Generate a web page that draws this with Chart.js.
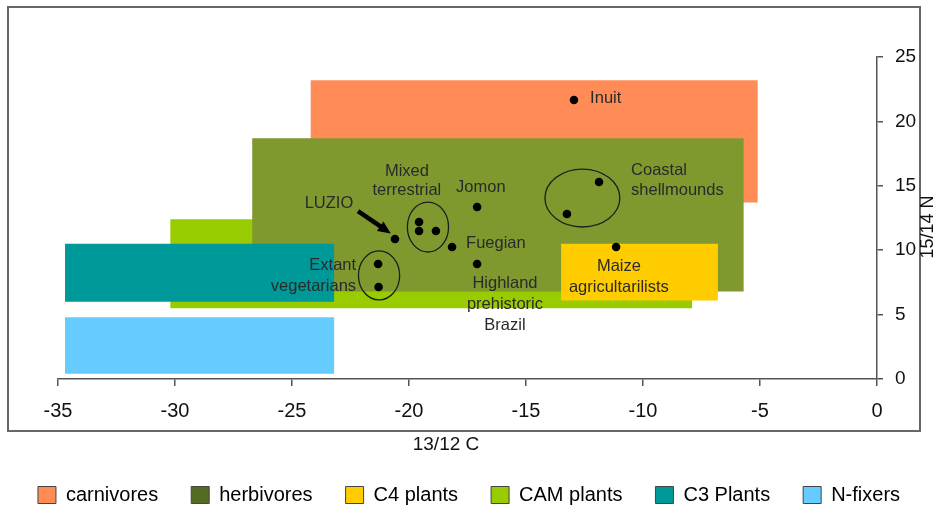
<!DOCTYPE html>
<html>
<head>
<meta charset="utf-8">
<script src="https://cdn.jsdelivr.net/npm/chart.js@4.4.1/dist/chart.umd.min.js"></script>
<style>
    html, body { margin: 0; padding: 0; background: #fff; }
    #wrap { width: 938px; height: 509px; }
</style>
</head>
<body>
<div id="wrap"><canvas id="isoChart"></canvas></div>
<script>
// diet groups, ranges of 13/12 C (x) and 15/14 N (y)
const groupNames = ['carnivores', 'herbivores', 'C4 plants', 'CAM plants', 'C3 Plants', 'N-fixers'];
const groupColors = ['#FF8C57', '#7F992F', '#FFCC00', '#99CC00', '#009999', '#66CCFF'];
const legendColors = ['#FF8C57', '#566B22', '#FFCC00', '#99CC00', '#009999', '#66CCFF'];
const groupXMin = [-24.2, -26.7, -13.5, -30.2, -34.7, -34.7];
const groupXMax = [-5.1, -5.7, -6.8, -7.9, -23.2, -23.2];
const groupYMin = [13.7, 6.8, 6.1, 5.5, 6.0, 0.4];
const groupYMax = [23.2, 18.7, 10.5, 12.4, 10.5, 4.8];
// higher number gets painted first (further back)
const groupLayer = [6, 4, 2, 5, 3, 1];

// measured samples
const sampleC = [-12.95, -11.88, -13.25, -17.09, -11.15, -17.09, -18.16, -20.6, -19.57, -19.57, -18.85, -21.32, -21.3];
const sampleN = [21.66, 15.3, 12.81, 13.35, 10.25, 8.93, 10.25, 10.87, 12.19, 11.49, 11.49, 8.93, 7.14];

const cTicks = [-35, -30, -25, -20, -15, -10, -5, 0];
const nTicks = [0, 5, 10, 15, 20, 25];

// text notes on the plot (data coords)
const notes = [
    { text: 'Inuit', x: -12.26, y: 21.8, align: 'left' },
    { text: 'Coastal', x: -10.51, y: 16.2, align: 'left' },
    { text: 'shellmounds', x: -10.51, y: 14.6, align: 'left' },
    { text: 'Jomon', x: -17.99, y: 14.9, align: 'left' },
    { text: 'Mixed', x: -20.09, y: 16.15, align: 'center' },
    { text: 'terrestrial', x: -20.09, y: 14.67, align: 'center' },
    { text: 'LUZIO', x: -23.42, y: 13.66, align: 'center' },
    { text: 'Fuegian', x: -17.56, y: 10.56, align: 'left' },
    { text: 'Extant', x: -22.26, y: 8.85, align: 'right' },
    { text: 'vegetarians', x: -22.26, y: 7.22, align: 'right' },
    { text: 'Highland', x: -15.9, y: 7.45, align: 'center' },
    { text: 'prehistoric', x: -15.9, y: 5.75, align: 'center' },
    { text: 'Brazil', x: -15.9, y: 4.19, align: 'center' },
    { text: 'Maize', x: -11.03, y: 8.7, align: 'center' },
    { text: 'agricultarilists', x: -11.03, y: 7.14, align: 'center' }
];
// rings around sample clusters
const rings = [
    { cx: -19.19, cy: 11.8, rx: 0.88, ry: 1.94 },
    { cx: -21.28, cy: 8.04, rx: 0.88, ry: 1.9 },
    { cx: -12.59, cy: 14.05, rx: 1.6, ry: 2.25 }
];
const luzioArrow = { x0: -22.18, y0: 13.04, x1: -20.78, y1: 11.3 };

const FONT = '"Liberation Sans", Arial, sans-serif';
const LEGEND_FONT = 20, LEGEND_PAD = 33, PAD_BOTTOM = -6;

const overlay = {
    id: 'overlay',
    afterDatasetsDraw(chart) {
        const { ctx, scales: { x, y } } = chart;
        ctx.save();
        ctx.strokeStyle = '#1e1e1e';
        ctx.lineWidth = 1.3;
        rings.forEach(r => {
            const px = x.getPixelForValue(r.cx), py = y.getPixelForValue(r.cy);
            const rx = Math.abs(x.getPixelForValue(r.cx + r.rx) - px);
            const ry = Math.abs(y.getPixelForValue(r.cy + r.ry) - py);
            ctx.beginPath();
            ctx.ellipse(px, py, rx, ry, 0, 0, Math.PI * 2);
            ctx.stroke();
        });

        // arrow to LUZIO
        const ax0 = x.getPixelForValue(luzioArrow.x0), ay0 = y.getPixelForValue(luzioArrow.y0);
        const ax1 = x.getPixelForValue(luzioArrow.x1), ay1 = y.getPixelForValue(luzioArrow.y1);
        const ang = Math.atan2(ay1 - ay0, ax1 - ax0);
        const head = 14;
        ctx.strokeStyle = '#000';
        ctx.fillStyle = '#000';
        ctx.lineWidth = 4.5;
        ctx.beginPath();
        ctx.moveTo(ax0, ay0);
        ctx.lineTo(ax1 - Math.cos(ang) * head * 0.7, ay1 - Math.sin(ang) * head * 0.7);
        ctx.stroke();
        ctx.beginPath();
        ctx.moveTo(ax1, ay1);
        ctx.lineTo(ax1 - head * Math.cos(ang - 0.42), ay1 - head * Math.sin(ang - 0.42));
        ctx.lineTo(ax1 - head * Math.cos(ang + 0.42), ay1 - head * Math.sin(ang + 0.42));
        ctx.closePath();
        ctx.fill();

        ctx.font = '16.5px ' + FONT;
        ctx.fillStyle = '#2a2a2a';
        ctx.textBaseline = 'middle';
        notes.forEach(n => {
            ctx.textAlign = n.align;
            ctx.fillText(n.text, x.getPixelForValue(n.x), y.getPixelForValue(n.y));
        });
        ctx.restore();
    },
    afterDraw(chart) {
        const ctx = chart.ctx;
        ctx.save();
        // outer frame
        ctx.strokeStyle = '#666';
        ctx.lineWidth = 2;
        ctx.strokeRect(8, 7, 912, 424);
        // axis titles
        ctx.fillStyle = '#111';
        ctx.textBaseline = 'middle';
        ctx.textAlign = 'center';
        ctx.font = '19px ' + FONT;
        ctx.fillText('13/12 C', 446, 445);
        ctx.translate(928, 227);
        ctx.rotate(-Math.PI / 2);
        ctx.font = '18px ' + FONT;
        ctx.fillText('15/14 N', 0, 0);
        ctx.restore();
    }
};

const groupSets = groupNames.map((name, i) => ({
    type: 'line',
    label: name,
    data: [
        { x: groupXMin[i], y: groupYMin[i] },
        { x: groupXMax[i], y: groupYMin[i] },
        { x: groupXMax[i], y: groupYMax[i] },
        { x: groupXMin[i], y: groupYMax[i] },
        { x: groupXMin[i], y: groupYMin[i] }
    ],
    fill: 'shape',
    backgroundColor: groupColors[i],
    borderColor: 'rgba(0,0,0,0)',
    borderWidth: 0,
    pointRadius: 0,
    tension: 0,
    order: groupLayer[i]
}));

const sampleSet = {
    type: 'scatter',
    label: 'samples',
    data: sampleC.map((c, i) => ({ x: c, y: sampleN[i] })),
    backgroundColor: '#000',
    borderWidth: 0,
    pointRadius: 4.3,
    order: 0
};

new Chart(document.getElementById('isoChart'), {
    type: 'scatter',
    data: { datasets: groupSets.concat([sampleSet]) },
    options: {
        responsive: true,
        maintainAspectRatio: false,
        animation: false,
        events: [],
        layout: { padding: { top: 57, left: 0, right: 0, bottom: PAD_BOTTOM } },
        scales: {
            x: {
                type: 'linear',
                min: -35,
                max: 0,
                afterBuildTicks: s => { s.ticks = cTicks.map(v => ({ value: v })); },
                afterFit: s => {
                    s.height = 509 - PAD_BOTTOM - (LEGEND_FONT + LEGEND_PAD + 10) - 379;
                    s.paddingLeft = 58;
                },
                grid: { drawOnChartArea: false, tickLength: 7, color: '#555', lineWidth: 1.5 },
                border: { display: true, color: '#555', width: 1.5 },
                ticks: { color: '#111', font: { size: 20, family: FONT }, padding: 13, maxRotation: 0, autoSkip: false }
            },
            y: {
                type: 'linear',
                position: 'right',
                min: 0,
                max: 25,
                afterBuildTicks: s => { s.ticks = nTicks.map(v => ({ value: v })); },
                afterFit: s => { s.width = 61; },
                grid: { drawOnChartArea: false, tickLength: 6, color: '#555', lineWidth: 1.5 },
                border: { display: true, color: '#555', width: 1.5 },
                ticks: { color: '#111', font: { size: 19, family: FONT }, padding: 12 }
            }
        },
        plugins: {
            tooltip: { enabled: false },
            legend: {
                position: 'bottom',
                labels: {
                    boxWidth: 18,
                    boxHeight: 17,
                    padding: LEGEND_PAD,
                    color: '#111',
                    font: { size: LEGEND_FONT, family: FONT },
                    generateLabels: () => groupNames.map((name, i) => ({
                        text: name,
                        fillStyle: legendColors[i],
                        strokeStyle: '#444',
                        lineWidth: 1,
                        hidden: false,
                        datasetIndex: i
                    }))
                }
            }
        }
    },
    plugins: [overlay]
});
</script>
</body>
</html>
